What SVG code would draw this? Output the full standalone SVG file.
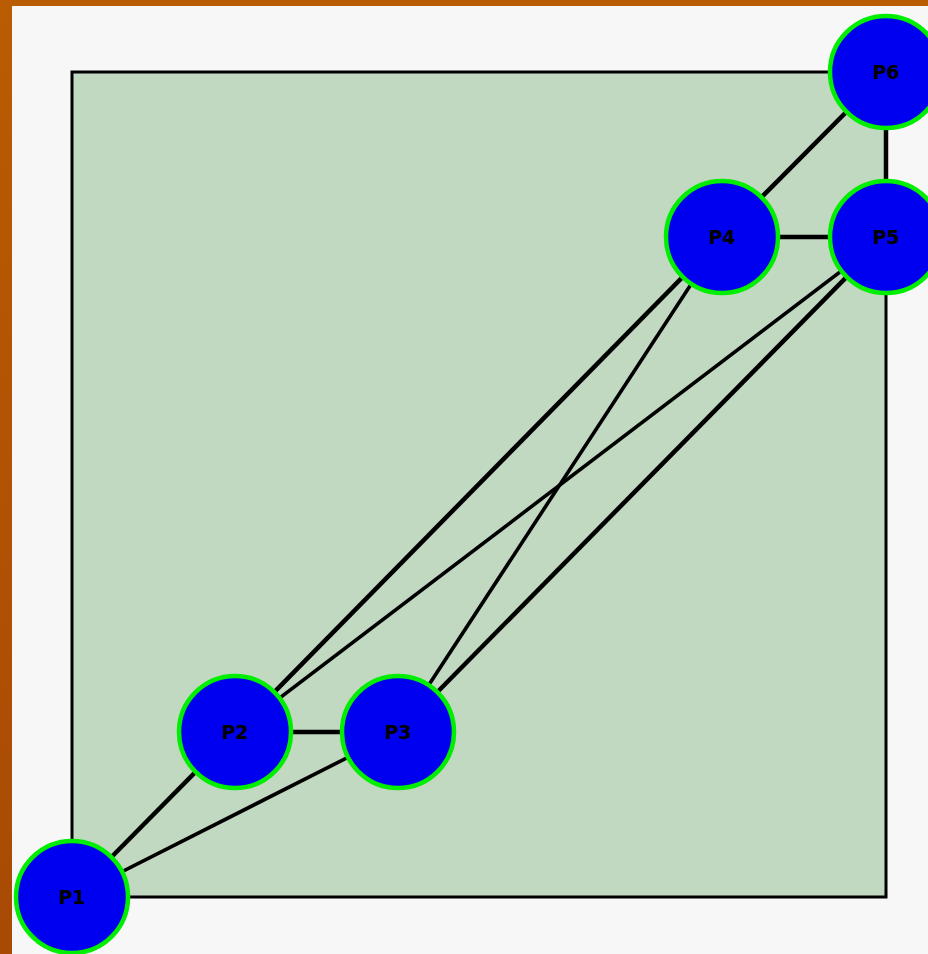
<svg xmlns="http://www.w3.org/2000/svg" width="928" height="954" viewBox="0 0 928 954">
<defs>
<linearGradient id="bg" x1="0" y1="0" x2="0" y2="1">
<stop offset="0" stop-color="#b95c02"/>
<stop offset="0.5" stop-color="#b25204"/>
<stop offset="1" stop-color="#a84a04"/>
</linearGradient>
<style>
.node circle{fill:#0000f0;stroke:#00ee00;stroke-width:4.5}
.node text{font-family:"DejaVu Sans",sans-serif;font-size:19px;font-weight:bold;fill:#000;text-anchor:middle;dominant-baseline:central}
.edges line{stroke:#000;stroke-width:4.5;stroke-linecap:butt}
.edges line.thin{stroke-width:3.6}
</style>
</defs>
<rect x="0" y="0" width="928" height="954" fill="url(#bg)"/>
<rect x="12" y="6" width="916" height="948" fill="#f7f7f7"/>
<rect id="frame" x="72" y="72" width="814" height="825" fill="#c1d8c1" stroke="#000" stroke-width="3"/>
<g id="connectors" class="edges">
<line x1="72" y1="897" x2="235" y2="732"/>
<line class="thin" x1="72" y1="897" x2="398" y2="732"/>
<line x1="235" y1="732" x2="398" y2="732"/>
<line x1="235" y1="732" x2="722" y2="237"/>
<line class="thin" x1="235" y1="732" x2="886" y2="237"/>
<line class="thin" x1="398" y1="732" x2="722" y2="237"/>
<line x1="398" y1="732" x2="886" y2="237"/>
<line x1="722" y1="237" x2="886" y2="237"/>
<line x1="722" y1="237" x2="886" y2="72"/>
<line x1="886" y1="237" x2="886" y2="72"/>
</g>
<g id="P1" class="node"><circle cx="72" cy="897" r="56"/><text x="72" y="897">P1</text></g>
<g id="P2" class="node"><circle cx="235" cy="732" r="56"/><text x="235" y="732">P2</text></g>
<g id="P3" class="node"><circle cx="398" cy="732" r="56"/><text x="398" y="732">P3</text></g>
<g id="P4" class="node"><circle cx="722" cy="237" r="56"/><text x="722" y="237">P4</text></g>
<g id="P5" class="node"><circle cx="886" cy="237" r="56"/><text x="886" y="237">P5</text></g>
<g id="P6" class="node"><circle cx="886" cy="72" r="56"/><text x="886" y="72">P6</text></g>
</svg>
